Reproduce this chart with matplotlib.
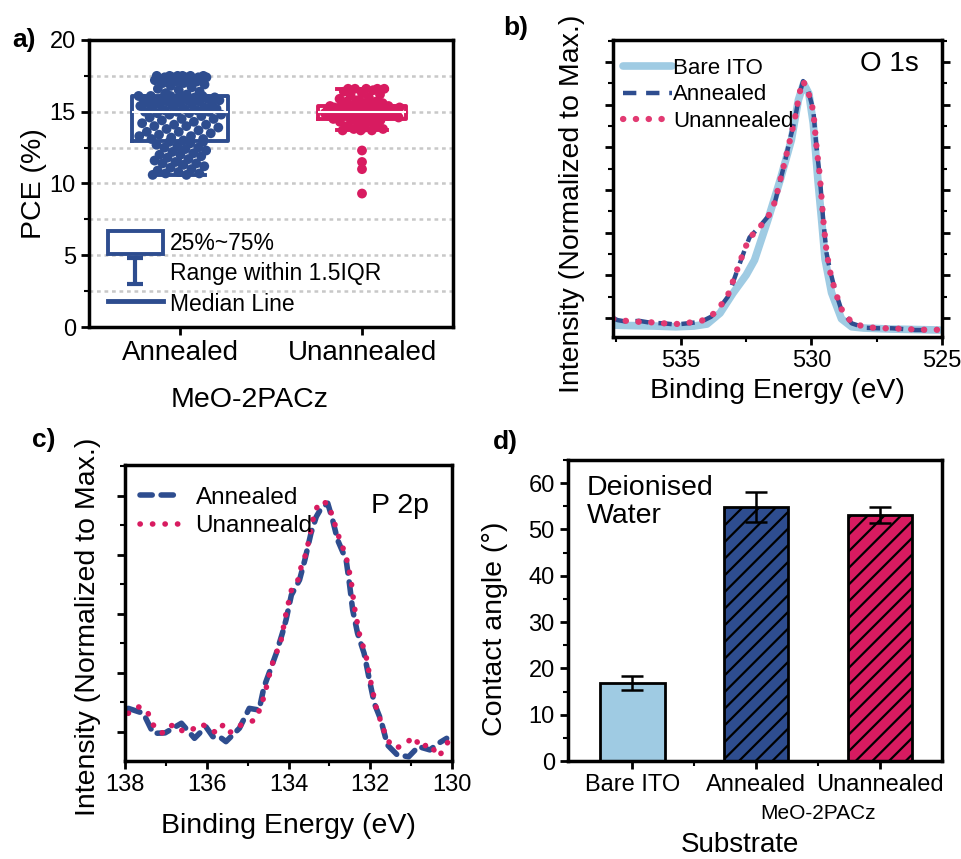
import numpy as np
import matplotlib
matplotlib.use('Agg')
import matplotlib.pyplot as plt
from matplotlib.patches import Patch
from matplotlib.lines import Line2D
from matplotlib.path import Path
from matplotlib.ticker import MultipleLocator, FixedLocator

plt.rcParams['font.family'] = ['Liberation Sans', 'DejaVu Sans']
plt.rcParams['hatch.linewidth'] = 1.6

BLUE = '#2e4d8f'
RED = '#d81b60'
PINK = '#e23a72'
LIGHT = '#9fcbe3'

# ---- a) PCE box plot data
pce_groups = ['Annealed', 'Unannealed']
pce_annealed = [
    10.6, 10.6, 10.7, 10.7, 10.8, 10.9, 11.0, 11.1, 11.2, 11.3, 11.4, 11.4, 11.5, 11.6, 11.7,
    11.8, 11.9, 12.0, 12.0, 12.1, 12.2, 12.3, 12.4, 12.5, 12.5, 12.6, 12.7, 12.8, 12.9, 12.9,
    13.0, 13.1, 13.1, 13.2, 13.3, 13.3, 13.4, 13.5, 13.6, 13.6, 13.7, 13.8, 13.9, 14.0, 14.0,
    14.1, 14.1, 14.2, 14.3, 14.4, 14.5, 14.5, 14.6, 14.7, 14.8, 14.8, 14.9, 14.9, 15.0, 15.0,
    15.0, 15.1, 15.1, 15.2, 15.2, 15.3, 15.3, 15.4, 15.4, 15.5, 15.5, 15.5, 15.6, 15.6, 15.7,
    15.7, 15.8, 15.8, 15.8, 15.9, 15.9, 15.9, 16.0, 16.0, 16.0, 16.0, 16.1, 16.1, 16.1, 16.1,
    16.2, 16.3, 16.4, 16.5, 16.6, 16.7, 16.8, 16.9, 17.0, 17.0, 17.1, 17.1, 17.2, 17.2, 17.2,
    17.3, 17.3, 17.3, 17.3, 17.4, 17.4, 17.4, 17.4, 17.4, 17.5, 17.5, 17.5, 17.5, 17.5, 17.5]
pce_unannealed = [
    9.3, 11.0, 11.5, 12.3, 13.7, 13.7, 13.7, 13.8, 13.8, 13.9, 14.0, 14.1, 14.2, 14.3, 14.3,
    14.4, 14.4, 14.4, 14.5, 14.5, 14.5, 14.6, 14.6, 14.6, 14.7, 14.7, 14.7, 14.8, 14.8, 14.8,
    14.8, 14.9, 14.9, 14.9, 14.9, 15.0, 15.0, 15.0, 15.0, 15.0, 15.0, 15.0, 15.0, 15.1, 15.1,
    15.1, 15.1, 15.1, 15.2, 15.2, 15.2, 15.2, 15.3, 15.3, 15.3, 15.3, 15.4, 15.4, 15.4, 15.4,
    15.4, 15.5, 15.5, 15.6, 15.6, 15.7, 15.7, 15.8, 15.9, 16.0, 16.1, 16.2, 16.3, 16.4, 16.5,
    16.6, 16.6, 16.6, 16.6, 16.6]

# ---- b) O 1s XPS
o1s_ev = [537.6, 537.43, 537.05, 536.6, 536.15, 535.65, 535.2, 534.74, 534.23, 533.85, 533.53,
          533.2, 532.88, 532.56, 532.37, 532.05, 531.67, 531.41, 531.22, 531.03, 530.83, 530.64,
          530.45, 530.32, 530.13, 529.93, 529.81, 529.68, 529.55, 529.42, 529.29, 529.1, 528.85,
          528.46, 527.95, 527.43, 526.92, 526.5, 526.03, 525.6, 525.13]
o1s_annealed = [0.048, 0.040, 0.033, 0.037, 0.029, 0.027, 0.022, 0.027, 0.033, 0.053, 0.087,
                0.134, 0.228, 0.321, 0.372, 0.408, 0.455, 0.509, 0.589, 0.669, 0.763, 0.843,
                0.951, 1.000, 0.964, 0.884, 0.736, 0.616, 0.442, 0.308, 0.241, 0.161, 0.080,
                0.027, 0.009, 0.007, 0.007, 0.004, 0.000, 0.000, 0.000]
o1s_unannealed = [0.045, 0.042, 0.036, 0.033, 0.031, 0.027, 0.024, 0.029, 0.036, 0.055, 0.090,
                  0.140, 0.232, 0.325, 0.370, 0.405, 0.452, 0.512, 0.592, 0.672, 0.760, 0.846,
                  0.955, 1.000, 0.960, 0.880, 0.740, 0.620, 0.446, 0.312, 0.236, 0.158, 0.084,
                  0.030, 0.012, 0.008, 0.006, 0.005, 0.002, 0.001, 0.001]
ito_ev = [537.6, 537.0, 536.0, 535.2, 534.5, 534.0, 533.5, 533.0, 532.5, 532.18, 531.67, 531.2,
          530.77, 530.5, 530.3, 530.1, 529.93, 529.75, 529.6, 529.48, 529.23, 528.85, 528.46,
          528.0, 527.0, 526.0, 525.1]
ito_int = [0.020, 0.018, 0.016, 0.013, 0.016, 0.024, 0.068, 0.149, 0.221, 0.281, 0.442, 0.602,
           0.763, 0.924, 0.990, 0.950, 0.830, 0.600, 0.430, 0.285, 0.150, 0.045, 0.013, 0.008,
           0.004, 0.002, 0.000]

# ---- c) P 2p XPS
p2p_ev_un = [137.92, 137.68, 137.47, 137.31, 137.1, 136.94, 136.74, 136.58, 136.37, 136.17,
             135.97, 135.76, 135.6, 135.44, 135.28, 135.03, 134.83, 134.67, 134.54, 134.42, 134.3,
             134.18, 134.06, 133.93, 133.77, 133.69, 133.57, 133.45, 133.37, 133.24, 133.04,
             132.92, 132.8, 132.59, 132.47, 132.39, 132.27, 132.1, 131.98, 131.86, 131.7, 131.58,
             131.41, 131.21, 130.93, 130.76, 130.56, 130.32, 130.07]
p2p_un = [0.079, 0.107, 0.093, 0.030, -0.006, 0.025, 0.030, 0.001, 0.008, 0.034, 0.022, -0.006,
          0.030, -0.004, 0.022, 0.037, 0.050, 0.107, 0.190, 0.277, 0.333, 0.390, 0.503, 0.600,
          0.644, 0.700, 0.757, 0.856, 0.926, 0.976, 0.969, 0.912, 0.842, 0.743, 0.644, 0.531,
          0.418, 0.319, 0.206, 0.107, 0.022, -0.034, -0.069, -0.059, -0.020, -0.069, -0.048,
          -0.105, -0.034]
p2p_ev_an = [137.92, 137.55, 137.31, 137.02, 136.62, 136.3, 136.02, 135.85, 135.69, 135.53,
             135.2, 134.96, 134.72, 134.6, 134.48, 134.3, 134.15, 134.06, 133.93, 133.73, 133.6,
             133.45, 133.32, 133.2, 133.04, 132.92, 132.8, 132.59, 132.51, 132.43, 132.31,
             132.15, 132.02, 131.9, 131.74, 131.58, 131.34, 131.06, 130.82, 130.54, 130.33, 130.13]
p2p_an = [0.100, 0.079, -0.006, -0.004, 0.037, -0.027, 0.022, -0.020, -0.020, -0.041, 0.016,
          0.100, 0.093, 0.190, 0.247, 0.333, 0.418, 0.475, 0.580, 0.644, 0.729, 0.842, 0.912,
          0.948, 0.969, 0.898, 0.814, 0.729, 0.630, 0.517, 0.418, 0.333, 0.220, 0.121, 0.051,
          -0.055, -0.097, -0.105, -0.062, -0.076, -0.048, -0.027]

# ---- d) contact angle
substrates = ['Bare ITO', 'Annealed', 'Unannealed']
angle = [16.9, 54.8, 53.1]
angle_err = [1.5, 3.2, 1.7]
bar_colors = [LIGHT, BLUE, RED]
bar_hatch = ['', '//', '//']

fig = plt.figure(figsize=(9.61, 8.59), dpi=100)


def px_axes(l, t, r, b):
    return fig.add_axes([l / 961, 1 - b / 859, (r - l) / 961, (b - t) / 859])


def style(ax):
    for s in ax.spines.values():
        s.set_linewidth(2.5)
    ax.tick_params(which='major', direction='out', length=6, width=2, labelsize=17)
    ax.tick_params(which='minor', direction='out', length=3.5, width=1.5)


def jitter(vals, hw_box, hw_whisk):
    # deterministic sideways spread: wide inside the box, narrower along
    # the whiskers, none for the outliers
    v = np.asarray(vals)
    q1, q3 = np.percentile(v, [25, 75])
    lo, hi = q1 - 1.5 * (q3 - q1), q3 + 1.5 * (q3 - q1)
    u = (np.arange(len(v)) * 0.618034) % 1 * 2 - 1
    hw = np.where((v >= q1) & (v <= q3), hw_box,
                  np.where((v >= lo) & (v <= hi), hw_whisk, 0.0))
    return u * hw


# ================= a)
ax = px_axes(89, 40, 453, 327)
style(ax)
spread = [(0.23, 0.15), (0.21, 0.13)]
for i, (vals, col) in enumerate([(pce_annealed, BLUE), (pce_unannealed, RED)]):
    pos = i + 1
    ax.scatter(pos + jitter(vals, *spread[i]), vals, s=50, color=col, edgecolors='none',
               zorder=3)
    ax.boxplot([vals], positions=[pos], widths=[0.53 if i == 0 else 0.48], whis=1.5,
               showfliers=False, capwidths=[0.27],
               boxprops=dict(color=col, lw=2.8), whiskerprops=dict(color=col, lw=2.8),
               capprops=dict(color=col, lw=2.8), medianprops=dict(color='white', lw=1.5),
               manage_ticks=False, zorder=4)
ax.set_xlim(0.5, 2.5)
ax.set_ylim(0, 20)
ax.set_xticks([1, 2])
ax.set_xticklabels(pce_groups, fontsize=20)
ax.yaxis.set_major_locator(MultipleLocator(5))
ax.yaxis.set_minor_locator(MultipleLocator(2.5))
ax.yaxis.grid(True, which='both', ls=(0, (1.5, 1.5)), color='#c8c8c8', lw=1.8)
ax.set_axisbelow(True)
ax.set_ylabel('PCE (%)', fontsize=20.5)
ax.yaxis.set_label_coords(-0.115, 0.5)
ax.set_xlabel('MeO-2PACz', fontsize=20.5)
ax.xaxis.set_label_coords(0.44, -0.21)

ipath = Path([(-0.6, 1), (0.6, 1), (0, 1), (0, -1), (-0.6, -1), (0.6, -1)],
             [Path.MOVETO, Path.LINETO, Path.MOVETO, Path.LINETO, Path.MOVETO, Path.LINETO])
hand = [Patch(facecolor='white', edgecolor=BLUE, lw=2.8),
        Line2D([], [], ls='none', marker=ipath, markersize=19, mec=BLUE, mew=3),
        Line2D([], [], color=BLUE, lw=3.5)]
ax.legend(hand, ['25%~75%', 'Range within 1.5IQR', 'Median Line'], loc='lower left',
          bbox_to_anchor=(0.02, 0.0), frameon=False, fontsize=16.5, handlelength=2.4,
          handleheight=1.2, labelspacing=0.25, handletextpad=0.3, borderpad=0)

# ================= b)
ax = px_axes(613, 40, 942, 337)
style(ax)
ax.plot(ito_ev, ito_int, color=LIGHT, lw=5.5, solid_capstyle='round', label='Bare ITO')
ax.plot(o1s_ev, o1s_annealed, color=BLUE, lw=3.2, ls=(0, (3, 2.2)), label='Annealed')
ax.plot(o1s_ev, o1s_unannealed, color=PINK, lw=4.5, ls=(0, (0.05, 2.0)),
        dash_capstyle='round', label='Unannealed')
ax.set_xlim(537.6, 525)
ax.set_ylim(-0.028, 1.165)
ax.xaxis.set_major_locator(MultipleLocator(5))
ax.xaxis.set_minor_locator(MultipleLocator(2.5))
yt = 0.048 + 0.1715 * np.arange(7)
ax.yaxis.set_major_locator(FixedLocator(yt))
ax.yaxis.set_minor_locator(FixedLocator(yt + 0.1715 / 2))
ax.tick_params(axis='y', which='both', right=True, labelleft=False)
ax.set_xlabel('Binding Energy (eV)', fontsize=20.5, labelpad=4)
ax.set_ylabel('Intensity (Normalized to Max.)', fontsize=20.5)
ax.yaxis.set_label_coords(-0.085, 0.45)
ax.legend(loc='upper left', bbox_to_anchor=(-0.01, 0.985), frameon=False, fontsize=16,
          handlelength=2.2, handletextpad=0.05, labelspacing=0.25, borderpad=0.1)
ax.text(0.93, 0.92, 'O 1s', transform=ax.transAxes, ha='right', va='center', fontsize=20)

# ================= c)
ax = px_axes(125, 465, 452, 761)
style(ax)
ax.plot(p2p_ev_an, p2p_an, color=BLUE, lw=4, ls=(0, (2.2, 1.6)), dash_capstyle='round',
        label='Annealed')
ax.plot(p2p_ev_un, p2p_un, color=RED, lw=4, ls=(0, (0.05, 2.2)),
        dash_capstyle='round', label='Unanneald')
ax.set_xlim(138, 130)
ax.set_ylim(-0.123, 1.131)
ax.xaxis.set_major_locator(MultipleLocator(2))
ax.xaxis.set_minor_locator(MultipleLocator(1))
ax.yaxis.set_major_locator(MultipleLocator(0.25))
ax.yaxis.set_minor_locator(MultipleLocator(0.125))
ax.tick_params(axis='y', which='both', labelleft=False)
ax.set_xlabel('Binding Energy (eV)', fontsize=20.5, labelpad=12)
ax.set_ylabel('Intensity (Normalized to Max.)', fontsize=20.5)
ax.yaxis.set_label_coords(-0.073, 0.453)
ax.legend(loc='upper left', bbox_to_anchor=(0.0, 0.975), frameon=False, fontsize=17.5,
          handlelength=1.7, handletextpad=0.6, labelspacing=0.25, borderpad=0.1)
ax.text(0.93, 0.86, 'P 2p', transform=ax.transAxes, ha='right', va='center', fontsize=20.5)

# ================= d)
ax = px_axes(568, 460, 942, 761)
style(ax)
x = np.arange(1, len(substrates) + 1)
ax.bar(x, angle, width=0.52, color=bar_colors, edgecolor='black', lw=2, hatch=bar_hatch,
       yerr=angle_err, capsize=8, error_kw=dict(elinewidth=1.8, capthick=1.8, ecolor='black'))
ax.set_xlim(0.48, 3.5)
ax.set_ylim(0, 65)
ax.set_xticks(x)
ax.set_xticklabels(substrates, fontsize=17)
ax.xaxis.set_minor_locator(FixedLocator([1.5, 2.5]))
ax.yaxis.set_major_locator(MultipleLocator(10))
ax.yaxis.set_minor_locator(MultipleLocator(5))
ax.set_ylabel('Contact angle (°)', fontsize=20.5)
ax.yaxis.set_label_coords(-0.16, 0.44)
ax.set_xlabel('Substrate', fontsize=20)
ax.xaxis.set_label_coords(0.46, -0.235)
ax.text(2.5, -0.173, 'MeO-2PACz', transform=ax.get_xaxis_transform(), ha='center',
        va='center', fontsize=15)
ax.text(0.05, 0.86, 'Deionised\nWater', transform=ax.transAxes, ha='left', va='center',
        fontsize=20.5, linespacing=1.1)

# panel letters
for lab, xp, yp in [('a)', 12, 40), ('b)', 503, 28), ('c)', 32, 440), ('d)', 493, 442)]:
    fig.text(xp / 961, 1 - yp / 859, lab, fontsize=19, fontweight='bold', ha='left', va='center')

fig.savefig('out.png', dpi=100)
